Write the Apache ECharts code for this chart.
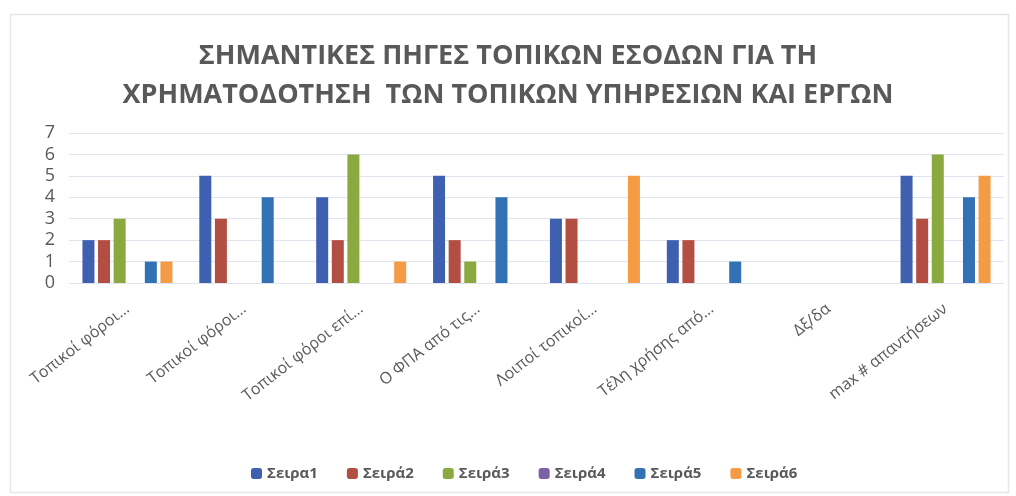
<!DOCTYPE html>
<html>
<head>
<meta charset="utf-8">
<script src="https://cdn.jsdelivr.net/npm/echarts@6/dist/echarts.min.js"></script>
<style>
html,body{margin:0;padding:0;background:#fff;}
#c{width:1016px;height:496px;}
</style>
</head>
<body>
<div id="c"></div>
<script>
const categories = ["Τοπικοί φόροι…", "Τοπικοί φόροι…", "Τοπικοί φόροι επί…", "Ο ΦΠΑ από τις…", "Λοιποί τοπικοί…", "Τέλη χρήσης από…", "Δξ/δα", "max # απαντήσεων"];
const seriesNames = ["Σειρα1", "Σειρά2", "Σειρά3", "Σειρά4", "Σειρά5", "Σειρά6"];
const s1 = [2, 5, 4, 5, 3, 2, 0, 5];
const s2 = [2, 3, 2, 2, 3, 2, 0, 3];
const s3 = [3, 0, 6, 1, 0, 0, 0, 6];
const s4 = [0, 0, 0, 0, 0, 0, 0, 0];
const s5 = [1, 4, 0, 4, 0, 1, 0, 4];
const s6 = [1, 0, 1, 0, 5, 0, 0, 5];
const yTicks = [0, 1, 2, 3, 4, 5, 6, 7];
const titleText = "ΣΗΜΑΝΤΙΚΕΣ ΠΗΓΕΣ ΤΟΠΙΚΩΝ ΕΣΟΔΩΝ ΓΙΑ ΤΗ\nΧΡΗΜΑΤΟΔΟΤΗΣΗ  ΤΩΝ ΤΟΠΙΚΩΝ ΥΠΗΡΕΣΙΩΝ ΚΑΙ ΕΡΓΩΝ";

const colors = ['#3F5FB0', '#B34E42', '#8AA93F', '#7B62A8', '#3271B3', '#F59A45'];
const allData = [s1, s2, s3, s4, s5, s6];

const chart = echarts.init(document.getElementById('c'), null, {renderer: 'canvas'});
chart.setOption({
  backgroundColor: '#ffffff',
  animation: false,
  color: colors,
  graphic: [{
    type: 'rect', left: 8, top: 12, shape: {width: 998, height: 478},
    style: {fill: 'none', stroke: '#e6e6e6', lineWidth: 1.5}, silent: true
  }],
  title: {
    text: titleText,
    left: 'center',
    top: 32,
    textStyle: {
      fontFamily: 'Open Sans', fontWeight: 'bold', fontSize: 27,
      color: '#595959', lineHeight: 39
    }
  },
  legend: {
    data: seriesNames,
    left: 246,
    top: 461,
    itemWidth: 11, itemHeight: 11, itemGap: 29,
    icon: 'roundRect',
    textStyle: {fontFamily: 'Open Sans', fontSize: 15, fontWeight: 'bold', color: '#595959'}
  },
  grid: {left: 69, right: 12, top: 133, bottom: 213, containLabel: false},
  xAxis: {
    type: 'category',
    data: categories,
    axisLine: {show: false},
    axisTick: {show: false},
    axisLabel: {
      rotate: 38, interval: 0, margin: 24,
      fontFamily: 'Open Sans', fontSize: 16, color: '#595959'
    }
  },
  yAxis: {
    type: 'value',
    min: yTicks[0], max: yTicks[yTicks.length - 1], interval: 1,
    axisLine: {show: false},
    axisTick: {show: false},
    axisLabel: {fontFamily: 'Open Sans', fontSize: 18, color: '#595959', margin: 14},
    splitLine: {lineStyle: {color: '#dfe4ee', width: 1}}
  },
  series: seriesNames.map((n, i) => ({
    name: n,
    type: 'bar',
    data: allData[i],
    barWidth: 12,
    barGap: '30%',
    itemStyle: {color: colors[i]}
  }))
});
</script>
</body>
</html>
